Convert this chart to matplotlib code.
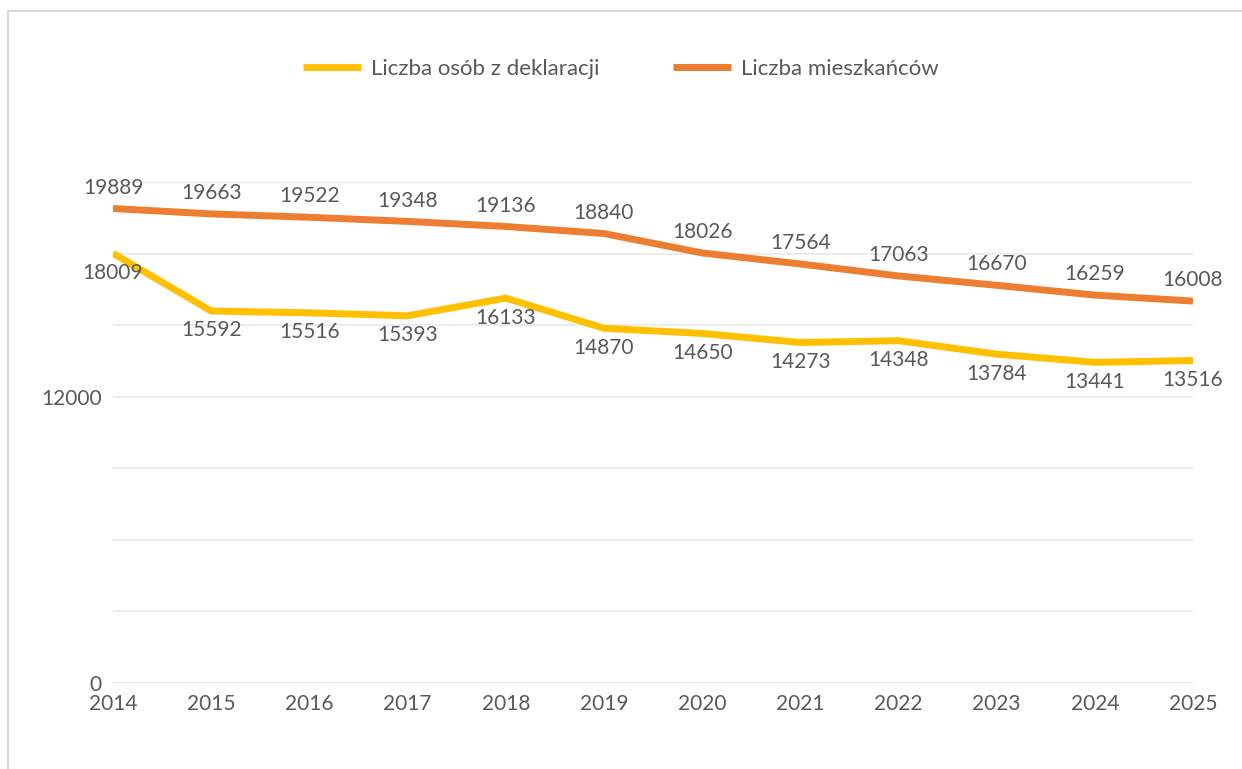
import matplotlib.pyplot as plt
from matplotlib.patches import Rectangle

lata = [2014, 2015, 2016, 2017, 2018, 2019, 2020, 2021, 2022, 2023, 2024, 2025]
deklaracje = [18009, 15592, 15516, 15393, 16133, 14870, 14650, 14273, 14348, 13784, 13441, 13516]
mieszkancy = [19889, 19663, 19522, 19348, 19136, 18840, 18026, 17564, 17063, 16670, 16259, 16008]

plt.rcParams['font.family'] = ['Lato', 'DejaVu Sans']
szary = '#595959'

fig = plt.figure(figsize=(12.42, 7.69), dpi=100)
ax = fig.add_axes([113 / 1242, 1 - 683 / 769, 1080 / 1242, 501 / 769])

# ramka wykresu
fig.patches.append(Rectangle((8 / 1242, -0.1), 1.2, 1 - 11 / 769 + 0.1, transform=fig.transFigure,
                             fill=False, edgecolor='#d9d9d9', linewidth=1.5))

# linie siatki co 3000
for y in range(3000, 21001, 3000):
    ax.axhline(y, color='#ebebeb', linewidth=1.3, zorder=0)
ax.axhline(0, color='#d9d9d9', linewidth=1.8, zorder=1)

ax.plot(lata, deklaracje, color='#FFC000', linewidth=5, solid_capstyle='butt',
        label='Liczba osób z deklaracji', zorder=3)
ax.plot(lata, mieszkancy, color='#ED7D31', linewidth=5, solid_capstyle='butt',
        label='Liczba mieszkańców', zorder=3)

for x, y in zip(lata, mieszkancy):
    ax.annotate(str(y), (x, y), xytext=(0, 15), textcoords='offset points',
                ha='center', va='center', fontsize=15, color=szary)
for x, y in zip(lata, deklaracje):
    ax.annotate(str(y), (x, y), xytext=(0, -14), textcoords='offset points',
                ha='center', va='center', fontsize=15, color=szary)

ax.set_xlim(2014, 2025)
ax.set_ylim(0, 21000)
ax.set_xticks(lata)
ax.set_xticklabels([str(r) for r in lata])
ax.set_yticks([0, 12000])
ax.set_yticklabels(['0', '12000'])
ax.tick_params(axis='both', length=0, labelsize=15, labelcolor=szary)
ax.tick_params(axis='x', pad=8)
ax.tick_params(axis='y', pad=8)
for s in ax.spines.values():
    s.set_visible(False)
ax.set_facecolor('none')

fig.legend(loc='center', bbox_to_anchor=(0.5, 1 - 69 / 769), ncol=2, frameon=False,
           fontsize=16, labelcolor=szary, handlelength=2.6, columnspacing=3.3, handletextpad=0.45)

fig.savefig('out.png', dpi=100)
